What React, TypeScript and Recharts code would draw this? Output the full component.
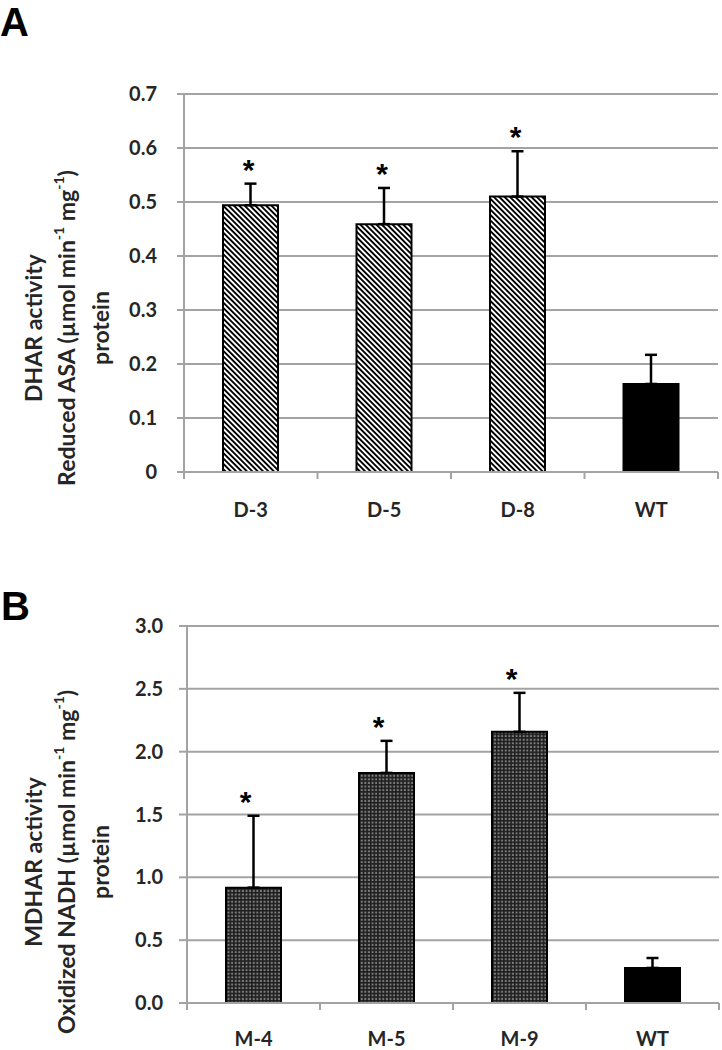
import React from 'react';
import { BarChart, Bar, XAxis, YAxis, CartesianGrid, ErrorBar, LabelList, Cell } from 'recharts';

// ---------- Panel A data ----------
const dharLines = ['D-3', 'D-5', 'D-8', 'WT'];
const dharActivity = [0.494, 0.459, 0.51, 0.163];
const dharError = [0.04, 0.067, 0.084, 0.054];
const dharSignificant = [true, true, true, false];
const dharTicks = [0, 0.1, 0.2, 0.3, 0.4, 0.5, 0.6, 0.7];

// ---------- Panel B data ----------
const mdharLines = ['M-4', 'M-5', 'M-9', 'WT'];
const mdharActivity = [0.918, 1.831, 2.158, 0.279];
const mdharError = [0.572, 0.255, 0.31, 0.079];
const mdharSignificant = [true, true, true, false];
const mdharTicks = [0, 0.5, 1, 1.5, 2, 2.5, 3];

const FONT = 'Lato, "Open Sans", sans-serif';
const GRID = '#a3a3a3';
const TEXT = '#262626';

type Row = { name: string; value: number; err: [number, number]; sig: boolean; wt: boolean };

const buildRows = (names: string[], vals: number[], errs: number[], sig: boolean[]): Row[] =>
  names.map((n, i) => ({ name: n, value: vals[i], err: [0, errs[i]], sig: sig[i], wt: n === 'WT' }));

const dharRows = buildRows(dharLines, dharActivity, dharError, dharSignificant);
const mdharRows = buildRows(mdharLines, mdharActivity, mdharError, mdharSignificant);

const makeStar = (rows: Row[], dx: number) => (props: any) => {
  const vb = props.viewBox || props;
  const idx = props.index;
  const row = rows[idx];
  if (!row || !row.sig) return null;
  const x = Number(vb.x);
  const y = Number(vb.y);
  const w = Number(vb.width);
  const h = Number(vb.height);
  const pxPerUnit = h / row.value;
  const top = y - row.err[1] * pxPerUnit;
  return (
    <text
      x={x + w / 2 + dx}
      y={top - 4}
      textAnchor="middle"
      fontFamily='"Liberation Sans", Arial, sans-serif'
      fontWeight="bold"
      fontSize={30}
      fill="#000"
    >
      *
    </text>
  );
};

const makeCatTick = (band: number, labelOffset: number) => (props: any) => {
  const { x, y, payload, index } = props;
  const axisY = y - labelOffset;
  const right = x + band / 2;
  const left = x - band / 2;
  return (
    <g>
      {index === 0 && <line x1={left} x2={left} y1={axisY} y2={axisY + 7} stroke={GRID} strokeWidth={2} />}
      <line x1={right} x2={right} y1={axisY} y2={axisY + 7} stroke={GRID} strokeWidth={2} />
      <text
        x={x}
        y={y}
        dy="0.71em"
        textAnchor="middle"
        fill={TEXT}
        fontSize={20}
        fontFamily={FONT}
        style={{ fontWeight: 'bold' }}
      >
        {payload.value}
      </text>
    </g>
  );
};

type PanelProps = {
  rows: Row[];
  ticks: number[];
  fill: string;
  width: number;
  height: number;
  margin: { top: number; right: number; left: number; bottom: number };
  xHeight: number;
  yWidth: number;
  yTickSize: number;
  yTickMargin: number;
  xLabelOffset: number;
  fmt: (v: number) => string;
  starDx: number;
};

const Panel = (p: PanelProps) => {
  const band = (p.width - p.margin.left - p.margin.right - p.yWidth) / p.rows.length;
  return (
    <BarChart width={p.width} height={p.height} data={p.rows} margin={p.margin} barSize={55}>
      <CartesianGrid vertical={false} stroke={GRID} strokeWidth={2} />
      <XAxis
        dataKey="name"
        type="category"
        height={p.xHeight}
        axisLine={{ stroke: GRID, strokeWidth: 2 }}
        tickLine={false}
        tickSize={0}
        tickMargin={p.xLabelOffset}
        interval={0}
        tick={makeCatTick(band, p.xLabelOffset)}
      />
      <YAxis
        domain={[p.ticks[0], p.ticks[p.ticks.length - 1]]}
        ticks={p.ticks}
        width={p.yWidth}
        interval={0}
        tickSize={p.yTickSize}
        tickMargin={p.yTickMargin}
        tickFormatter={p.fmt}
        axisLine={{ stroke: GRID, strokeWidth: 2 }}
        tickLine={{ stroke: GRID, strokeWidth: 2 }}
        tick={{ fill: TEXT, fontSize: 20, fontFamily: FONT, style: { fontWeight: 'bold' } }}
      />
      <Bar dataKey="value" stroke="#000" strokeWidth={2} isAnimationActive={false}>
        {p.rows.map((r, i) => (
          <Cell key={i} fill={r.wt ? '#000' : p.fill} />
        ))}
        <ErrorBar dataKey="err" width={6} stroke="#000" strokeWidth={2.5} direction="y" />
        <LabelList dataKey="value" content={makeStar(p.rows, p.starDx)} />
      </Bar>
    </BarChart>
  );
};

const Sup = ({ children }: { children: React.ReactNode }) => (
  <tspan fontSize={14} dy={-8}>
    {children}
  </tspan>
);

const AxisTitle = ({ cy, l1, l2pre, l3 }: { cy: number; l1: string; l2pre: string; l3: string }) => (
  <g fontFamily={FONT} fontSize={23} fill={TEXT} fontWeight={700} style={{ fontWeight: 'bold' }}>
    <text transform={`translate(33,${cy}) rotate(-90)`} textAnchor="middle" dominantBaseline="central">
      {l1}
    </text>
    <text transform={`translate(66,${cy}) rotate(-90)`} textAnchor="middle" dominantBaseline="central">
      {l2pre} (µmol min<Sup>-1</Sup>
      <tspan dy={8}> mg</tspan>
      <Sup>-1</Sup>
      <tspan dy={8}>)</tspan>
    </text>
    <text transform={`translate(100,${cy}) rotate(-90)`} textAnchor="middle" dominantBaseline="central">
      {l3}
    </text>
  </g>
);

export default function App() {
  return (
    <div style={{ position: 'absolute', left: 0, top: 0, width: 722, height: 1050, background: '#fff', overflow: 'hidden' }}>
      <svg width={0} height={0} style={{ position: 'absolute' }}>
        <defs>
          <pattern id="hatch" patternUnits="userSpaceOnUse" width={3.8} height={3.8} patternTransform="rotate(-45)">
            <rect width={3.8} height={3.8} fill="#fff" />
            <line x1={0.95} y1={0} x2={0.95} y2={3.8} stroke="#000" strokeWidth={1.9} />
          </pattern>
          <pattern id="dots" patternUnits="userSpaceOnUse" width={3.6} height={3.6}>
            <rect width={3.6} height={3.6} fill="#1e1e1e" />
            <rect x={0.7} y={0.7} width={2} height={2} fill="#7c7c7c" />
          </pattern>
        </defs>
      </svg>

      <div style={{ position: 'absolute', left: 0, top: 0 }}>
        <Panel
          rows={dharRows}
          ticks={dharTicks}
          fill="url(#hatch)"
          width={722}
          height={540}
          margin={{ top: 94, right: 4, left: 0, bottom: 0 }}
          xHeight={68}
          yWidth={184}
          yTickSize={7}
          yTickMargin={20}
          xLabelOffset={31}
          fmt={(v) => String(v)}
          starDx={-2}
        />
      </div>
      <div style={{ position: 'absolute', left: 0, top: 540 }}>
        <Panel
          rows={mdharRows}
          ticks={mdharTicks}
          fill="url(#dots)"
          width={722}
          height={510}
          margin={{ top: 86, right: 3, left: 0, bottom: 0 }}
          xHeight={47}
          yWidth={187}
          yTickSize={8}
          yTickMargin={16}
          xLabelOffset={29}
          fmt={(v) => v.toFixed(1)}
          starDx={-8}
        />
      </div>

      <svg width={722} height={1050} style={{ position: 'absolute', left: 0, top: 0, pointerEvents: 'none' }}>
        <text x={0} y={36} fontFamily='"Liberation Sans", Arial, sans-serif' fontWeight="bold" fontSize={40} fill="#000">
          A
        </text>
        <text x={1} y={620} fontFamily='"Liberation Sans", Arial, sans-serif' fontWeight="bold" fontSize={40} fill="#000">
          B
        </text>
        <AxisTitle cy={328} l1="DHAR activity" l2pre="Reduced ASA" l3="protein" />
        <AxisTitle cy={862} l1="MDHAR activity" l2pre="Oxidized NADH" l3="protein" />
      </svg>
    </div>
  );
}
